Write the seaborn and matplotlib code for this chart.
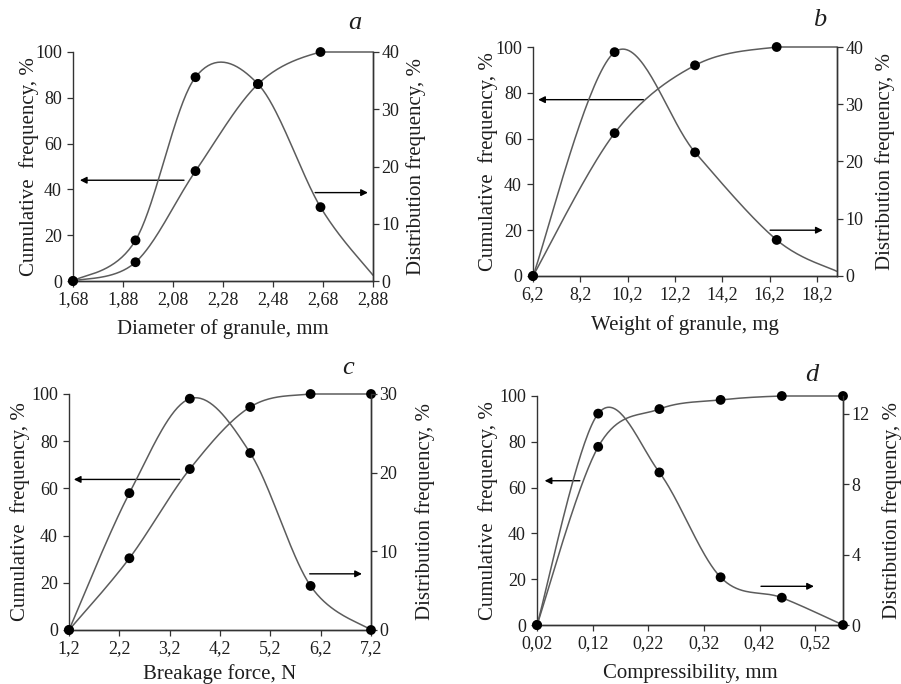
import numpy as np
import pandas as pd
import matplotlib
matplotlib.use("Agg")
import matplotlib.pyplot as plt
import seaborn as sns

# panel a - diameter of granule, mm
a_x = [1.68, 1.93, 2.17, 2.42, 2.67, 2.88]
a_cum = [0, 8.2, 48, 86, 100, 100]
a_dist = [0, 7.1, 35.6, 34.4, 12.9, 1.0]
a_marked = [True, True, True, True, True, False]

# panel b - weight of granule, mg
b_x = [6.2, 9.65, 13.05, 16.5, 19.05]
b_cum = [0, 62.4, 92, 100, 100]
b_dist = [0, 39.1, 21.6, 6.3, 0.8]
b_marked = [True, True, True, True, False]

# panel c - breakage force, N
c_x = [1.2, 2.4, 3.6, 4.8, 6.0, 7.2]
c_cum = [0, 30.4, 68.2, 94.5, 100, 100]
c_dist = [0, 17.4, 29.4, 22.5, 5.6, 0]
c_marked = [True, True, True, True, True, True]

# panel d - compressibility, mm
d_x = [0.02, 0.13, 0.24, 0.35, 0.46, 0.57]
d_cum = [0, 77.8, 94.3, 98.3, 100, 100]
d_dist = [0, 12.0, 8.66, 2.71, 1.55, 0]
d_marked = [True, True, True, True, True, True]

xticks = {
    "a": [1.68, 1.88, 2.08, 2.28, 2.48, 2.68, 2.88],
    "b": [6.2, 8.2, 10.2, 12.2, 14.2, 16.2, 18.2],
    "c": [1.2, 2.2, 3.2, 4.2, 5.2, 6.2, 7.2],
    "d": [0.02, 0.12, 0.22, 0.32, 0.42, 0.52],
}
dist_ticks = {
    "a": [0, 10, 20, 30, 40],
    "b": [0, 10, 20, 30, 40],
    "c": [0, 10, 20, 30],
    "d": [0, 4, 8, 12],
}
xlabels = {
    "a": "Diameter of granule, mm",
    "b": "Weight of granule, mg",
    "c": "Breakage force, N",
    "d": "Compressibility, mm",
}

sns.set_theme(style="ticks")
plt.rcParams["font.family"] = ["Liberation Serif", "DejaVu Serif"]

LINE = "#5c5c5c"
AXC = "#333333"
TXT = "#1e1e1e"


def excel_smooth(xs, ys, n=40):
    # bezier smoothing like Excel's "smoothed line" option
    P = np.column_stack([xs, ys]).astype(float)
    out = []
    t = np.linspace(0, 1, n)[:, None]
    for i in range(len(P) - 1):
        p0 = P[i - 1] if i > 0 else P[i]
        p3 = P[i + 2] if i + 2 < len(P) else P[i + 1]
        c1 = P[i] + (P[i + 1] - p0) / 6
        c2 = P[i + 1] - (p3 - P[i]) / 6
        seg = ((1 - t) ** 3) * P[i] + 3 * ((1 - t) ** 2) * t * c1 \
            + 3 * (1 - t) * (t ** 2) * c2 + (t ** 3) * P[i + 1]
        out.append(seg if i == 0 else seg[1:])
    return np.vstack(out)


def fmt(v, nd):
    return f"{v:.{nd}f}".replace(".", ",")


def draw_series(ax, xs, ys, marked, clamp=False):
    sm = excel_smooth(xs, ys)
    yy = sm[:, 1]
    if clamp:
        # cumulative curve should not bulge over 100 %
        yy = np.clip(yy, min(ys), max(ys))
    line = pd.DataFrame({"x": sm[:, 0], "y": yy})
    sns.lineplot(data=line, x="x", y="y", ax=ax, sort=False, estimator=None,
                 color=LINE, lw=1.1, clip_on=False)
    pts = pd.DataFrame({"x": xs, "y": ys, "m": marked})
    pts = pts[pts["m"]]
    sns.scatterplot(data=pts, x="x", y="y", ax=ax, color="black", s=50,
                    edgecolor="none", clip_on=False, zorder=5)


def make_panel(fig, rect, key, xs, cum, dist, marked, xlim, dmax, nd,
               arrows, letter_pos, pads):
    ax = fig.add_axes(rect)
    ax2 = ax.twinx()
    draw_series(ax, xs, cum, marked, clamp=True)
    draw_series(ax2, xs, dist, marked)

    ax.set_xlim(*xlim)
    ax.set_ylim(0, 100)
    ax2.set_ylim(0, dmax)
    ax.set_xticks(xticks[key])
    ax.set_xticklabels([fmt(v, nd) for v in xticks[key]])
    ax.set_yticks([0, 20, 40, 60, 80, 100])
    ax2.set_yticks(dist_ticks[key])

    for a_ in (ax, ax2):
        a_.spines["top"].set_visible(False)
        for s in ("left", "right", "bottom"):
            a_.spines[s].set_color(AXC)
            a_.spines[s].set_linewidth(1.0)
        a_.tick_params(direction="out", length=4, width=0.9, color=AXC,
                       labelsize=13, labelcolor=TXT, pad=2)
    ax.tick_params(axis="y", pad=4)
    ax.tick_params(axis="x", pad=3)
    ax2.spines["left"].set_visible(False)

    xpad, lpad, rpad = pads
    ax.set_xlabel(xlabels[key], fontsize=15, color=TXT, labelpad=xpad)
    ax.set_ylabel("Cumulative  frequency, %", fontsize=15, color=TXT,
                  labelpad=lpad)
    ax2.set_ylabel("Distribution frequency, %", fontsize=15, color=TXT,
                   labelpad=rpad)

    for (x0, x1, y) in arrows:
        ax.annotate("", xy=(x1, y), xytext=(x0, y),
                    xycoords="axes fraction", textcoords="axes fraction",
                    arrowprops=dict(arrowstyle="-|>", color="black", lw=1.0,
                                    mutation_scale=10, shrinkA=0, shrinkB=0))
    fig.text(letter_pos[0] / 901, 1 - letter_pos[1] / 684, key,
             fontsize=19, style="italic", ha="center", va="center",
             color=TXT)
    return ax, ax2


fig = plt.figure(figsize=(9.01, 6.84), dpi=100)
fig.patch.set_facecolor("white")


def rect(l, r, t, b):
    return [l / 901, 1 - b / 684, (r - l) / 901, (b - t) / 684]


make_panel(fig, rect(73, 373, 52, 281), "a", a_x, a_cum, a_dist, a_marked,
           (1.68, 2.88), 40, 2,
           [(0.37, 0.023, 0.44), (0.807, 0.983, 0.386)], (355, 23),
           (8.5, -3, 5))
make_panel(fig, rect(533, 837, 47, 276), "b", b_x, b_cum, b_dist, b_marked,
           (6.2, 19.05), 40, 1,
           [(0.363, 0.017, 0.77), (0.78, 0.953, 0.20)], (820, 20),
           (9, -2.5, 8.5))
make_panel(fig, rect(69, 371, 394, 630), "c", c_x, c_cum, c_dist, c_marked,
           (1.2, 7.2), 30, 1,
           [(0.367, 0.016, 0.638), (0.797, 0.97, 0.238)], (348, 368),
           (5.5, 0.5, 13))
make_panel(fig, rect(537, 843, 396, 625), "d", d_x, d_cum, d_dist, d_marked,
           (0.02, 0.57), 13, 2,
           [(0.14, 0.025, 0.63), (0.732, 0.905, 0.169)], (812, 375),
           (8.5, 0.5, 9))

fig.savefig("out.png", dpi=100, facecolor="white")
